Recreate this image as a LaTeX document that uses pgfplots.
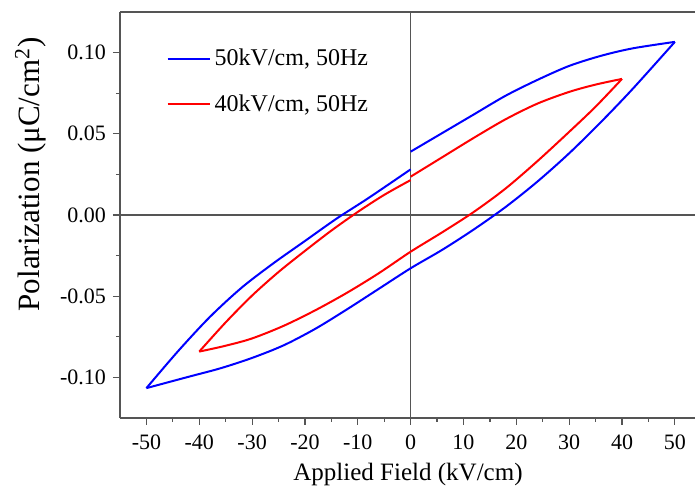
\documentclass[border=0pt]{standalone}
\usepackage{pgfplots}
\pgfplotsset{compat=1.18}
\usepackage{fontspec}
\setmainfont{Liberation Serif}
\definecolor{axisgray}{RGB}{85,85,85}
\definecolor{loopblue}{RGB}{0,0,255}
\definecolor{loopred}{RGB}{255,0,0}

\begin{document}
\begin{tikzpicture}
% frame of the whole figure, 1px = 0.5pt
\useasboundingbox (-60pt,-34pt) rectangle (287.5pt,209pt);
\begin{axis}[
  at={(0pt,0pt)}, anchor=south west,
  scale only axis,
  width=288pt, height=203pt,
  xmin=-55, xmax=54,
  ymin=-0.125, ymax=0.125,
  axis x line*=box, axis y line*=left,
  xtick pos=bottom, ytick pos=left,
  xtick={-50,-40,...,50},
  ytick={-0.10,-0.05,0,0.05,0.10},
  minor x tick num=1, minor y tick num=1,
  tick align=outside,
  major tick length=3.5pt, minor tick length=2pt,
  axis line style={axisgray, line width=0.7pt},
  every tick/.style={axisgray, line width=0.6pt},
  /pgf/number format/assume math mode=true,
  tick label style={font=\fontsize{11}{13}\selectfont},
  xticklabel style={yshift=-1.5pt},
  yticklabel style={/pgf/number format/.cd, fixed, fixed zerofill, precision=2},
  xlabel={Applied Field (kV/cm)},
  ylabel={Polarization (μC/cm\textsuperscript{2})},
  xlabel style={font=\fontsize{12.5}{14}\selectfont},
  ylabel style={font=\fontsize{15.5}{17}\selectfont,
    at={(ticklabel cs:0.6)}, anchor=near ticklabel},
  legend style={draw=none, fill=none, at={(0.07,0.93)}, anchor=north west,
    font=\fontsize{12}{14}\selectfont, row sep=9pt},
  legend cell align=left,
  legend image code/.code={\draw[#1] (0pt,0pt) -- (21pt,0pt);},
  every axis plot/.append style={line join=round},
]
% zero lines
\addplot[axisgray, line width=0.7pt, forget plot] coordinates {(-55,0) (54,0)};
\addplot[axisgray, line width=0.7pt, forget plot] coordinates {(0,-0.125) (0,0.125)};

% 50 kV/cm loop: upper right part, falling branch, upper left part
\addplot[loopblue, line width=1pt, smooth, tension=0.5] coordinates {
  (0,0.0390)(6,0.0505)(12,0.0620)(18,0.0735)(24,0.0832)(30,0.0918)
  (36,0.0980)(42,0.1026)(50,0.1066)
};
\addlegendentry{50kV/cm, 50Hz}
\addplot[loopblue, line width=1pt, smooth, tension=0.5, forget plot] coordinates {
  (50,0.1066)(42,0.0776)(36,0.0572)(30,0.0380)(24,0.0206)(18,0.0050)
  (12,-0.0088)(6,-0.0214)(0,-0.0328)
  (-6,-0.0454)(-12,-0.0580)(-18,-0.0700)(-24,-0.0802)(-30,-0.0880)
  (-36,-0.0944)(-42,-0.0996)(-50,-0.1066)
};
\addplot[loopblue, line width=1pt, smooth, tension=0.5, forget plot] coordinates {
  (-50,-0.1066)(-44,-0.0838)(-38,-0.0628)(-32,-0.0448)(-26,-0.0298)
  (-20,-0.0160)(-14,-0.0022)(-8,0.0104)(0,0.0281)
};

% 40 kV/cm loop
\addplot[loopred, line width=1pt, smooth, tension=0.5] coordinates {
  (0,0.0236)(6,0.0356)(12,0.0476)(18,0.0590)(24,0.0686)(30,0.0758)
  (35,0.0803)(40,0.0838)
};
\addlegendentry{40kV/cm, 50Hz}
\addplot[loopred, line width=1pt, smooth, tension=0.5, forget plot] coordinates {
  (40,0.0838)(35,0.0667)(30,0.0512)(24,0.0332)(18,0.0164)(12,0.0020)
  (6,-0.0106)(0,-0.0226)
  (-6,-0.0358)(-12,-0.0478)(-18,-0.0586)(-24,-0.0682)(-30,-0.0760)
  (-35,-0.0805)(-40,-0.0841)
};
\addplot[loopred, line width=1pt, smooth, tension=0.5, forget plot] coordinates {
  (-40,-0.0841)(-35,-0.0661)(-30,-0.0496)(-25,-0.0351)(-20,-0.0221)
  (-15,-0.0096)(-10,0.0019)(-5,0.0124)(0,0.0215)
};
\end{axis}
\end{tikzpicture}
\end{document}
